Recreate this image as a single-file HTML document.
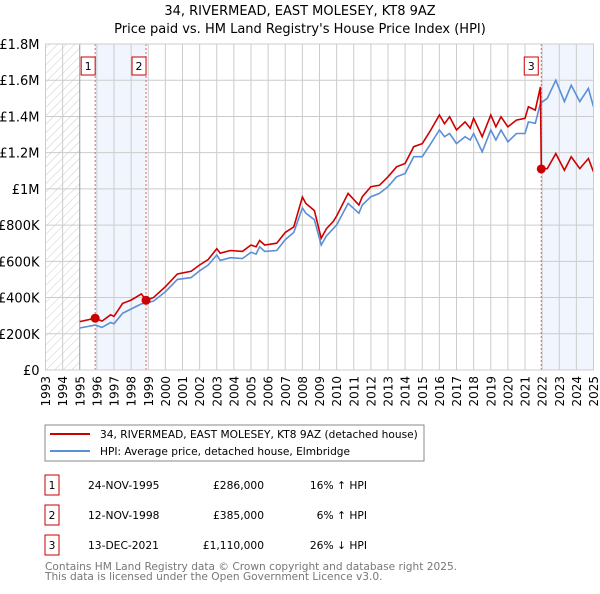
<!DOCTYPE html>
<html><head><meta charset="utf-8"><style>
body{margin:0;background:#fff;width:600px;height:590px;overflow:hidden;font-family:"DejaVu Sans","Liberation Sans",sans-serif}
svg text{font-family:"DejaVu Sans","Liberation Sans",sans-serif}
</style></head><body>
<svg id="c" width="600" height="590">
<defs><pattern id="hatch" width="6" height="6" patternUnits="userSpaceOnUse" patternTransform="rotate(45)"><line x1="0" y1="0" x2="0" y2="6" stroke="#ccc" stroke-width="1"/></pattern></defs>
<text x="300" y="15" text-anchor="middle" font-size="13">34, RIVERMEAD, EAST MOLESEY, KT8 9AZ</text>
<text x="300" y="33" text-anchor="middle" font-size="13">Price paid vs. HM Land Registry's House Price Index (HPI)</text>
<g id="plot"></g>
<rect x="45" y="425" width="379" height="36" fill="#fff" stroke="#888"/>
<line x1="50" y1="434" x2="90" y2="434" stroke="#cc0000" stroke-width="2"/>
<text x="100" y="438" font-size="10.6">34, RIVERMEAD, EAST MOLESEY, KT8 9AZ (detached house)</text>
<line x1="50" y1="451" x2="90" y2="451" stroke="#5b8fd6" stroke-width="2"/>
<text x="100" y="455" font-size="10.6">HPI: Average price, detached house, Elmbridge</text>
<g font-size="10.7" id="tbl"></g>
<text x="45" y="570" font-size="10.6" fill="#777">Contains HM Land Registry data © Crown copyright and database right 2025.</text>
<text x="45" y="580" font-size="10.6" fill="#777">This data is licensed under the Open Government Licence v3.0.</text>
</svg>
<script>
const hpiYears=[1995.0,1995.9,1996.3,1996.8,1997.0,1997.5,1998.0,1998.6,1998.87,1999.3,2000.0,2000.7,2001.5,2002.0,2002.5,2003.0,2003.2,2003.8,2004.5,2005.0,2005.3,2005.5,2005.8,2006.5,2007.0,2007.5,2008.0,2008.2,2008.7,2009.1,2009.4,2009.8,2010.0,2010.67,2011.3,2011.5,2012.0,2012.5,2013.0,2013.5,2014.0,2014.5,2015.0,2015.5,2016.0,2016.3,2016.6,2017.0,2017.5,2017.8,2018.0,2018.5,2019.0,2019.3,2019.6,2020.0,2020.5,2021.0,2021.2,2021.6,2021.9,2022.3,2022.8,2023.3,2023.7,2024.2,2024.7,2025.0];
const hpiValues=[232,248,235,262,255,313,337,365,370,380,432,500,510,548,580,635,605,620,615,650,640,680,655,660,720,760,895,866,830,690,740,780,800,920,866,911,957,975,1012,1067,1085,1178,1178,1250,1325,1288,1306,1250,1288,1270,1306,1205,1325,1270,1325,1260,1306,1306,1370,1362,1472,1500,1600,1482,1572,1482,1555,1453];
const priceYears=[1995.0,1995.9,1996.3,1996.8,1997.0,1997.5,1998.0,1998.6,1998.87,1999.3,2000.0,2000.7,2001.5,2002.0,2002.5,2003.0,2003.2,2003.8,2004.5,2005.0,2005.3,2005.5,2005.8,2006.5,2007.0,2007.5,2008.0,2008.2,2008.7,2009.1,2009.4,2009.8,2010.0,2010.67,2011.3,2011.5,2012.0,2012.5,2013.0,2013.5,2014.0,2014.5,2015.0,2015.5,2016.0,2016.3,2016.6,2017.0,2017.5,2017.8,2018.0,2018.5,2019.0,2019.3,2019.6,2020.0,2020.5,2021.0,2021.2,2021.6,2021.9,2021.95,2022.3,2022.8,2023.3,2023.7,2024.2,2024.7,2025.0];
const priceValues=[267,286,270,305,296,368,386,420,385,400,460,530,545,580,610,670,645,660,655,690,680,715,690,700,760,790,955,920,880,727,780,820,850,975,911,957,1012,1020,1067,1122,1140,1233,1250,1325,1408,1360,1398,1325,1370,1335,1390,1288,1408,1343,1398,1343,1380,1390,1453,1435,1563,1110,1112,1195,1103,1177,1112,1168,1094];
const saleLabels=["1","2","3"];
const saleYears=[1995.9,1998.87,2021.95];
const saleValues=[286,385,1110];
const saleDates=["24-NOV-1995","12-NOV-1998","13-DEC-2021"];
const salePrices=["£286,000","£385,000","£1,110,000"];
const saleDiffs=["16% ↑ HPI","6% ↑ HPI","26% ↓ HPI"];
const yTicks=[0,200,400,600,800,1000,1200,1400,1600,1800];
const yTickLabels=["£0","£200K","£400K","£600K","£800K","£1M","£1.2M","£1.4M","£1.6M","£1.8M"];
const xTicks=[];for(let y=1993;y<=2025;y++)xTicks.push(y);

const L=45.5,R=593.5,T=44,B=370,X0=1993,X1=2025,YMAX=1800;
const sx=v=>L+(v-X0)/(X1-X0)*(R-L);
const sy=v=>B-v/YMAX*(B-T);
const NS="http://www.w3.org/2000/svg";
const g=document.getElementById('plot');
function mk(tag,at,parent){const e=document.createElementNS(NS,tag);for(const k in at)e.setAttribute(k,at[k]);(parent||g).appendChild(e);return e;}
let e;
e=mk('rect',{x:sx(1993),y:T,width:sx(1995)-sx(1993),height:B-T,fill:'url(#hatch)'});


e=mk('rect',{x:sx(saleYears[0]),y:T,width:sx(saleYears[1])-sx(saleYears[0]),height:B-T,fill:'#f1f5fd'});


e=mk('rect',{x:sx(saleYears[2]),y:T,width:R-sx(saleYears[2]),height:B-T,fill:'#f1f5fd'});


yTicks.forEach((v,i)=>{
 e=mk('line',{x1:L,x2:R,y1:sy(v),y2:sy(v),stroke:'#ccc'});
 
 
 e=mk('text',{x:L-6,y:sy(v)+5,'text-anchor':'end','font-size':13});
 e.textContent=yTickLabels[i];
 
 
});
xTicks.forEach(v=>{
 e=mk('line',{x1:sx(v),x2:sx(v),y1:T,y2:B,stroke:v==1995?'#999':'#ccc'});
 
 
 e=mk('text',{x:0,y:0,'text-anchor':'end','font-size':12,transform:`translate(${sx(v)+4.5},376) rotate(-90)`});
 e.textContent=v;
 
 
});
saleYears.forEach((v,i)=>{
 e=mk('line',{x1:sx(v),x2:sx(v),y1:T,y2:B,stroke:'#e06060','stroke-dasharray':'2,2'});
 
 
});
const path=(xs,vs)=>xs.map((x,i)=>(i?'L':'M')+sx(x).toFixed(1)+','+sy(vs[i]).toFixed(1)).join('');
e=mk('path',{d:path(hpiYears,hpiValues),fill:'none',stroke:'#5b8fd6','stroke-width':1.6});


e=mk('path',{d:path(priceYears,priceValues),fill:'none',stroke:'#cc0000','stroke-width':1.6});


saleYears.forEach((v,i)=>{
 e=mk('circle',{cx:sx(v),cy:sy(saleValues[i]),r:4.5,fill:'#cc0000'});
 
 
 const bx=sx(v)-(i==2?17:14);
 e=mk('rect',{x:bx,y:57,width:14,height:18,fill:'#fff',stroke:'#cc0000'});
 
 
 e=mk('text',{x:bx+7,y:70,'text-anchor':'middle','font-size':11});
 e.textContent=saleLabels[i];
 
 
});
e=mk('rect',{x:L,y:T,width:R-L,height:B-T,fill:'none',stroke:'#ccc'});


const t=document.getElementById('tbl');
saleLabels.forEach((s,i)=>{
 const y=475+i*30;
 e=mk('rect',{x:45,y:y,width:14,height:20,fill:'#fff',stroke:'#cc0000'},t);
 
 
 e=mk('text',{x:52,y:y+14,'text-anchor':'middle'},t);e.textContent=s;
 
 
 e=mk('text',{x:88,y:y+14},t);e.textContent=saleDates[i];
 
 
 e=mk('text',{x:264,y:y+14,'text-anchor':'end'},t);e.textContent=salePrices[i];
 
 
 e=mk('text',{x:367,y:y+14,'text-anchor':'end'},t);e.textContent=saleDiffs[i];
 
 
});
</script>
</body></html>
